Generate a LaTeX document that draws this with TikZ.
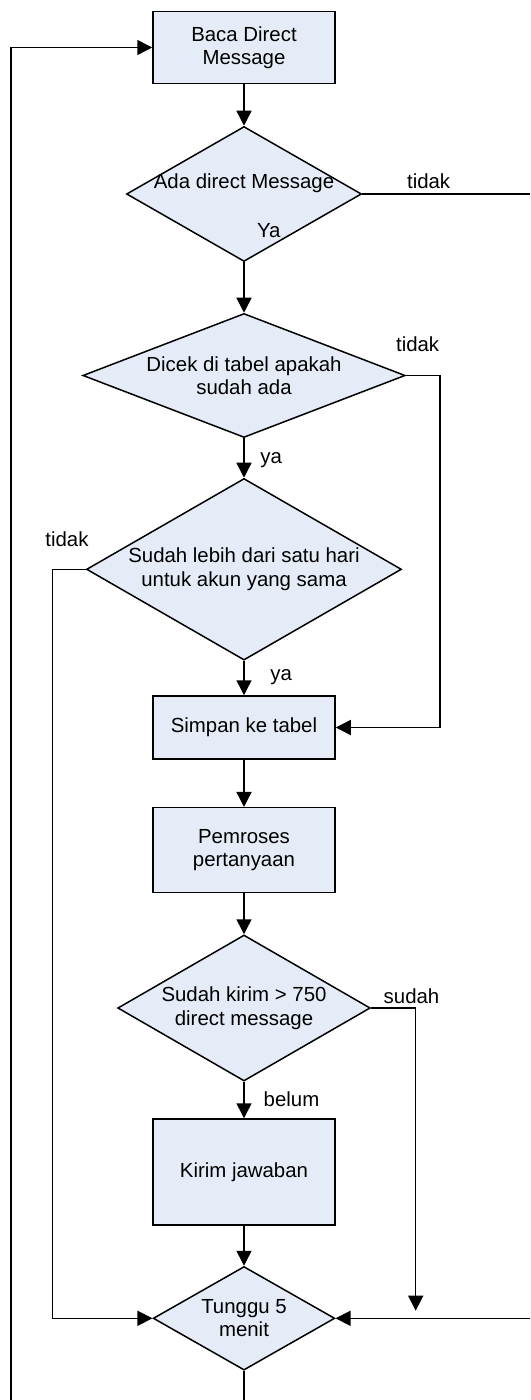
\documentclass[tikz,border=0pt]{standalone}
\usepackage{fontspec}
\setmainfont{Liberation Sans}
\usetikzlibrary{shapes.geometric,arrows.meta}
\definecolor{boxfill}{RGB}{230,236,247}
\tikzset{
  every node/.style={font=\fontsize{10.2pt}{11.75pt}\selectfont, inner sep=0pt},
  procbox/.style={draw, fill=boxfill, line width=0.75pt, rectangle, minimum width=91pt, align=center},
  decision/.style={draw, fill=boxfill, line width=0.75pt, diamond, align=center},
  lbl/.style={anchor=base west},
  conn/.style={line width=0.75pt},
  arr/.style={line width=0.75pt, -{Triangle[length=7.5pt,width=7.5pt]}},
}
\begin{document}
\begin{tikzpicture}[x=0.5pt,y=-0.5pt]
\useasboundingbox (0,0) rectangle (530,1400);
% nodes
\node[procbox, minimum height=36pt] (baca) at (244,47.5) {Baca Direct\\Message};
\node[decision, minimum width=117.5pt, minimum height=67.5pt, aspect=1.74] (d1) at (244,194) {};
\node[anchor=base] (d1txt) at (244,188.3) {Ada direct Message};
\node[decision, minimum width=161.2pt, minimum height=62pt, aspect=2.6] (d2) at (244,375.5) {Dicek di tabel apakah\\sudah ada};
\node[decision, minimum width=157.5pt, minimum height=90.8pt, aspect=1.73] (d3) at (244,569.3) {Sudah lebih dari satu hari\\untuk akun yang sama};
\node[procbox, minimum height=31.5pt] (simpan) at (244,727.5) {Simpan ke tabel};
\node[procbox, minimum height=42.5pt] (proses) at (244,850.2) {Pemroses\\pertanyaan};
\node[decision, minimum width=126.3pt, minimum height=73pt, aspect=1.73] (d4) at (244,1008) {Sudah kirim > 750\\direct message};
\node[procbox, minimum height=53pt] (kirim) at (244,1172) {Kirim jawaban};
\node[decision, minimum width=90.8pt, minimum height=51.8pt, aspect=1.75] (tunggu) at (244,1318.3) {Tunggu 5\\menit};
% labels
\node[lbl] (l1) at (406.7,188.3) {tidak};
\node[lbl] (l2) at (256.7,237.3) {Ya};
\node[lbl] (l3) at (395.7,351.7) {tidak};
\node[lbl] (l4) at (260,464) {ya};
\node[lbl] (l5) at (45,546.7) {tidak};
\node[lbl] (l6) at (270,680) {ya};
\node[lbl] (l7) at (383.3,1003.3) {sudah};
\node[lbl] (l8) at (263.3,1106.7) {belum};
% coordinates
\coordinate (rE1) at (530,194);
\coordinate (rx2) at (440,0);
\coordinate (lx3) at (52.3,0);
\coordinate (s4end) at (415.7,1310.7);
\coordinate (rE2) at (530,1318.3);
\coordinate (bot) at (244,1400);
\coordinate (lb) at (11,1400);
% connectors
\draw[arr] (baca) -- (d1);
\draw[conn] (d1.east) -- (rE1);
\draw[arr] (d1) -- (d2);
\draw[arr] (d2.east) -| (rx2 |- simpan.east) -- (simpan.east);
\draw[arr] (d2) -- (d3);
\draw[arr] (d3.west) -| (lx3 |- tunggu.west) -- (tunggu.west);
\draw[arr] (d3) -- (simpan);
\draw[arr] (simpan) -- (proses);
\draw[arr] (proses) -- (d4);
\draw[arr] (d4.east) -| (s4end);
\draw[arr] (d4) -- (kirim);
\draw[arr] (kirim) -- (tunggu);
\draw[arr] (rE2) -- (tunggu.east);
\draw[conn] (tunggu.south) -- (bot);
\draw[arr] (lb) |- (baca.west);
\end{tikzpicture}
\end{document}
